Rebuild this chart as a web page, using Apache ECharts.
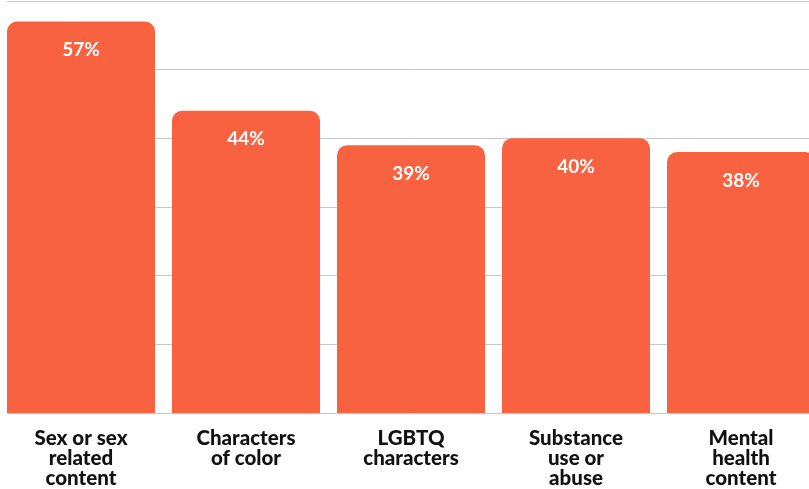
<!DOCTYPE html>
<html><head><meta charset="utf-8">
<script src="https://cdn.jsdelivr.net/npm/echarts@6/dist/echarts.min.js"></script>
<style>html,body{margin:0;padding:0;background:#fff}#c{width:809px;height:489px}</style>
</head><body><div id="c"></div>
<script>
const categories = ["Sex or sex\nrelated\ncontent", "Characters\nof color", "LGBTQ\ncharacters", "Substance\nuse or\nabuse", "Mental\nhealth\ncontent"];
const values = [57, 44, 39, 40, 38];
const yMin = 0, yMax = 60, yInterval = 10;

const chart = echarts.init(document.getElementById('c'));
chart.setOption({
  animation: false,
  grid: {left: 7, width: 825, top: 1, bottom: 76, outerBoundsMode: 'none'},
  xAxis: {
    type: 'category', data: categories,
    axisLine: {show: false}, axisTick: {show: false},
    axisLabel: {interval: 0, margin: 15, padding: [0, 17, 0, 0], color: '#111', fontFamily: 'Lato', fontWeight: 900, fontSize: 20.5, lineHeight: 20, verticalAlign: 'top'}
  },
  yAxis: {
    type: 'value', min: yMin, max: yMax, interval: yInterval,
    axisLabel: {show: false}, axisLine: {show: false}, axisTick: {show: false},
    splitLine: {lineStyle: {color: '#c8c8c8', width: 1}}
  },
  series: [{
    type: 'bar', data: values, barWidth: 148, barGap: 0,
    itemStyle: {color: '#F96240', borderRadius: [10, 10, 0, 0]},
    label: {show: true, position: 'insideTop', distance: 19, formatter: '{c}%', color: '#fff', fontFamily: 'Lato', fontWeight: 'bold', fontSize: 19}
  }, {
    type: 'bar', data: values.map(() => null), barWidth: 17, barGap: 0, silent: true
  }]
});
</script></body></html>
